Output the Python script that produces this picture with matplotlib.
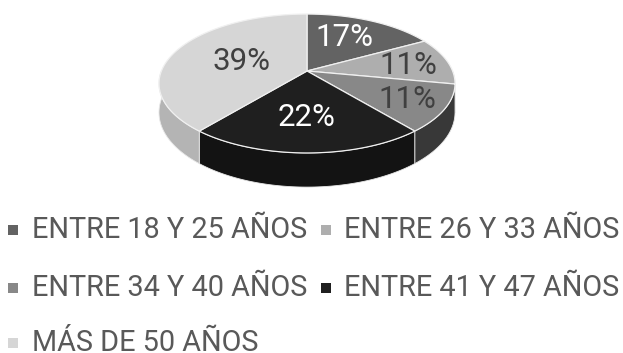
import numpy as np
import matplotlib
matplotlib.use("Agg")
import matplotlib.pyplot as plt
from matplotlib.patches import Polygon

plt.rcParams['font.family'] = ['Roboto', 'DejaVu Sans']

categories = ["ENTRE 18 Y 25 AÑOS", "ENTRE 26 Y 33 AÑOS", "ENTRE 34 Y 40 AÑOS",
              "ENTRE 41 Y 47 AÑOS", "MÁS DE 50 AÑOS"]
values = [17, 11, 11, 22, 39]
top_colors = ["#636363", "#aeaeae", "#888888", "#1f1f1f", "#d6d6d6"]
side_colors = ["#3f3f3f", "#6a6a6a", "#383838", "#131313", "#b4b4b4"]
text_colors = ["white", "#404040", "#404040", "white", "#404040"]

# pie geometry, in pixels of the picture
cx, cy = 307, 71
rx, ry = 145.6, 67.2
persp = 0.18
depth = 28

label_xy = [(344, 37), (408, 66), (407, 99), (307, 117), (242, 61)]
# marker centre x, text start x, text baseline y
legend_xy = [(13, 32, 238), (326, 344, 238), (13, 32, 296), (326, 344, 296), (13, 32, 351)]


def project(frac, r=1.0, drop=0.0):
    # clockwise from the top, tilted circle seen in perspective
    a = 2 * np.pi * np.asarray(frac)
    u, v = r * np.sin(a), r * np.cos(a)
    d = 1 + persp * v
    return cx + rx * u / d, cy - ry * v / d + drop / d


def rim(f0, f1, drop=0.0):
    x, y = project(np.linspace(f0, f1, 80), drop=drop)
    return np.column_stack([x, y])


fig = plt.figure(figsize=(6.23, 3.53), dpi=100)
ax = fig.add_axes([0, 0, 1, 1])
ax.set_xlim(0, 623)
ax.set_ylim(353, 0)
ax.axis("off")

edges = np.cumsum([0] + values) / sum(values)

# side walls first, only where the rim faces the viewer
for i in range(len(values)):
    f0, f1 = edges[i], edges[i + 1]
    f0, f1 = max(f0, 0.25), min(f1, 0.75)
    if f1 <= f0:
        continue
    top = rim(f0, f1)
    bottom = rim(f0, f1, drop=depth)
    ax.add_patch(Polygon(np.vstack([top, bottom[::-1]]), fc=side_colors[i],
                         ec="#e8e8e8", lw=0.6, zorder=1))

# top faces
for i in range(len(values)):
    pts = np.vstack([[project(0, r=0)], rim(edges[i], edges[i + 1])])
    ax.add_patch(Polygon(pts, fc=top_colors[i], ec="#f0f0f0", lw=0.9, zorder=2))

for i, v in enumerate(values):
    ax.text(label_xy[i][0], label_xy[i][1], f"{v}%", color=text_colors[i],
            fontsize=22.5, ha="center", va="center", zorder=3)

for i, name in enumerate(categories):
    xm, xt, yb = legend_xy[i]
    ax.plot([xm], [yb - 8], marker="s", ms=6.5, color=top_colors[i], mew=0, ls="none")
    ax.text(xt, yb, name, color="#595959", fontsize=20.8, ha="left", va="baseline")

fig.savefig("out.png", dpi=100)
